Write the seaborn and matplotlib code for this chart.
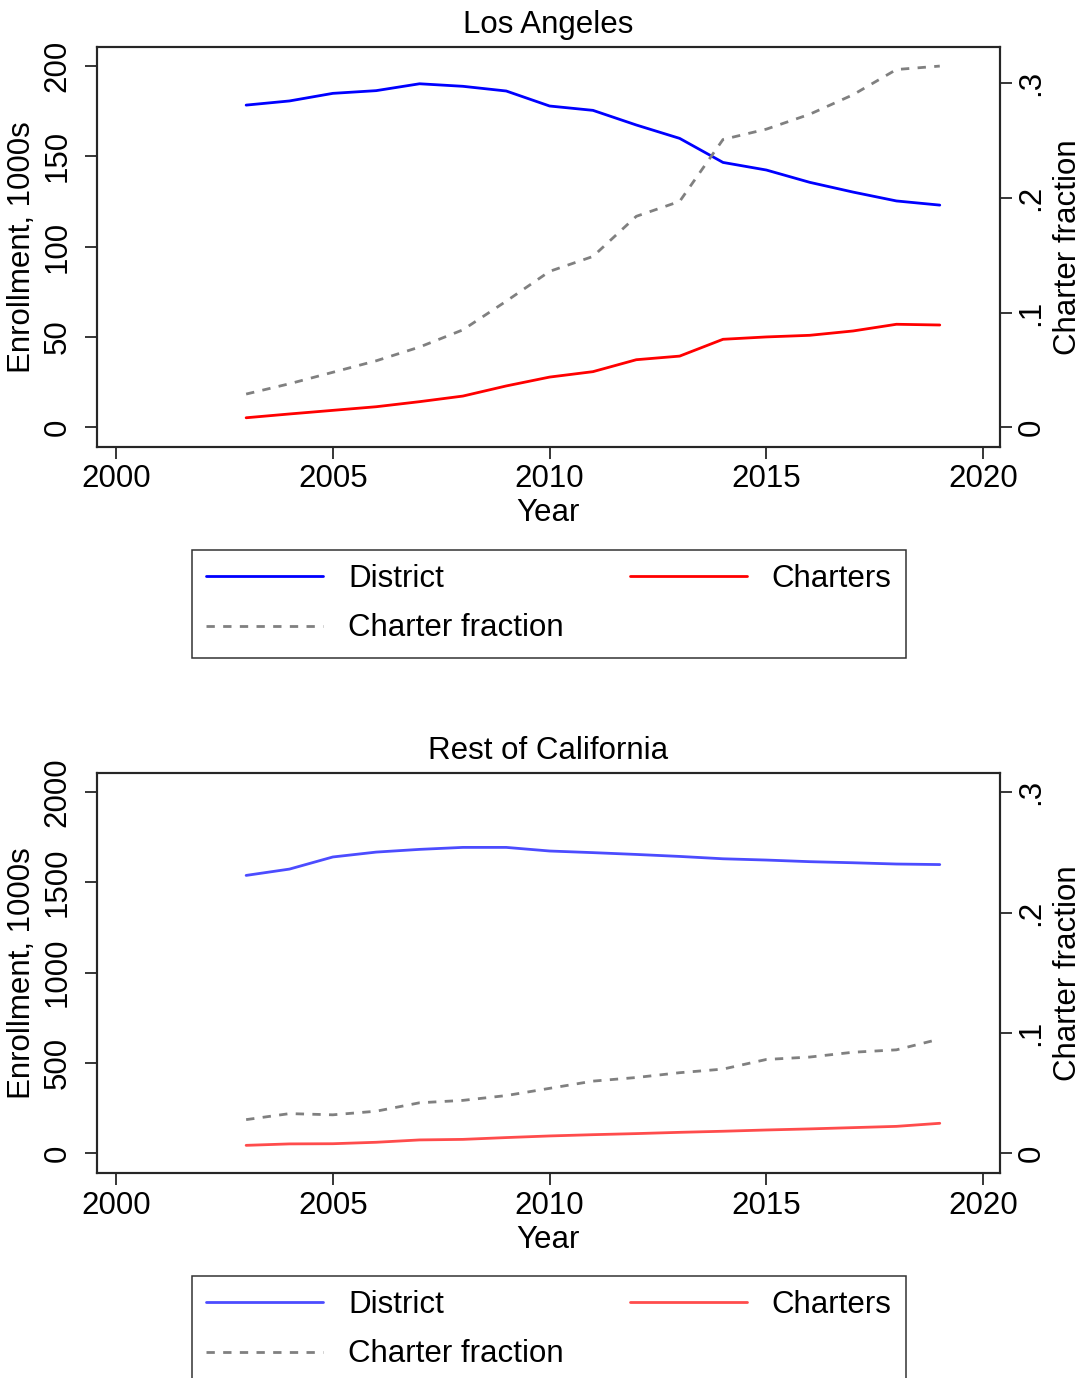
import numpy as np
import pandas as pd
import seaborn as sns
import matplotlib.pyplot as plt
from matplotlib.ticker import FuncFormatter

# Data
years = list(range(2003, 2020))

la_district = [178.2, 180.5, 184.7, 186.2, 190.0, 188.6, 186.0, 177.7, 175.3,
               167.2, 159.8, 146.5, 142.3, 135.5, 130.1, 125.2, 122.9]
la_charters = [5.3, 7.4, 9.4, 11.4, 14.2, 17.3, 22.9, 27.8, 30.8,
               37.4, 39.4, 48.7, 50.0, 50.9, 53.3, 57.0, 56.6]
la_fraction = [0.029, 0.038, 0.048, 0.058, 0.070, 0.085, 0.110, 0.136, 0.149,
               0.184, 0.197, 0.251, 0.260, 0.273, 0.290, 0.312, 0.315]

ca_district = [1537, 1572, 1639, 1666, 1681, 1692, 1692, 1672, 1663,
               1653, 1642, 1629, 1622, 1613, 1607, 1600, 1597]
ca_charters = [44, 52, 53, 61, 74, 77, 87, 96, 103,
               109, 116, 122, 129, 135, 142, 149, 166]
ca_fraction = [0.028, 0.033, 0.032, 0.035, 0.042, 0.044, 0.048, 0.054, 0.060,
               0.063, 0.067, 0.070, 0.078, 0.080, 0.084, 0.086, 0.095]

panel_titles = ["Los Angeles", "Rest of California"]
series_labels = ["District", "Charters", "Charter fraction"]

sns.set_style("white")
plt.rcParams['font.family'] = ['Liberation Sans', 'DejaVu Sans']
plt.rcParams['text.color'] = 'black'
plt.rcParams['axes.labelcolor'] = 'black'
plt.rcParams['xtick.color'] = 'black'
plt.rcParams['ytick.color'] = 'black'
plt.rcParams['axes.linewidth'] = 1.5

W, H = 1086, 1378
FS = 22.5
LW = 2.0


def px_box(left, top, right, bottom):
    # convert pixel box (from top-left) to figure fraction rect
    return [left / W, 1 - bottom / H, (right - left) / W, (bottom - top) / H]


def draw_panel(fig, rect, title, district, charters, fraction, colors, ylim, yticks, rlim, legend_top):
    ax = fig.add_axes(rect)
    df = pd.DataFrame({"Year": years, "District": district, "Charters": charters})
    sns.lineplot(data=df, x="Year", y="District", color=colors[0], lw=LW, ax=ax, legend=False)
    sns.lineplot(data=df, x="Year", y="Charters", color=colors[1], lw=LW, ax=ax, legend=False)

    ax2 = ax.twinx()
    fdf = pd.DataFrame({"Year": years, "Fraction": fraction})
    sns.lineplot(data=fdf, x="Year", y="Fraction", color="#808080", lw=LW, ax=ax2, legend=False)
    ax2.lines[0].set_dashes((3, 3))

    ax.set_xlim(1999.56, 2020.38)
    ax.set_xticks([2000, 2005, 2010, 2015, 2020])
    ax.set_ylim(*ylim)
    ax.set_yticks(yticks)
    ax2.set_ylim(*rlim)
    ax2.set_yticks([0, 0.1, 0.2, 0.3])
    ax2.yaxis.set_major_formatter(FuncFormatter(lambda v, p: "0" if v == 0 else ("%.1f" % v).lstrip("0")))

    ax.set_title(title, fontsize=FS, pad=10)
    ax.set_xlabel("Year", fontsize=FS, labelpad=3)
    ax.set_ylabel("Enrollment, 1000s", fontsize=FS, labelpad=4)
    ax2.set_ylabel("Charter fraction", fontsize=FS, labelpad=5)

    ax.tick_params(axis='x', direction='out', length=8.6, width=1.1, labelsize=FS, pad=4, bottom=True)
    ax.tick_params(axis='y', direction='out', length=8.6, width=1.1, labelsize=FS, pad=9, left=True)
    ax2.tick_params(axis='y', direction='out', length=8.6, width=1.1, labelsize=FS, pad=3.5, right=True)
    for lab in ax.get_yticklabels() + ax2.get_yticklabels():
        lab.set_rotation(90)
        lab.set_va('center')
    for sp in ax.spines.values():
        sp.set_color('black')
        sp.set_linewidth(1.5)

    # column-major fill: put fraction second so rows read District | Charters, then fraction
    lines = ax.get_lines()[:2] + ax2.get_lines()[:1]
    handles = [lines[0], lines[2], lines[1]]
    labels = [series_labels[0], series_labels[2], series_labels[1]]
    leg = fig.legend(handles, labels, ncol=2, loc='upper left',
                     bbox_to_anchor=(192 / W, 1 - legend_top / H),
                     fontsize=FS, frameon=True, fancybox=False, edgecolor='black',
                     handlelength=3.75, handletextpad=0.8, columnspacing=2.1,
                     borderpad=0.45, labelspacing=0.62, borderaxespad=0)
    leg.get_frame().set_linewidth(1.1)
    return ax, ax2


fig = plt.figure(figsize=(W / 100, H / 100), dpi=100)

draw_panel(fig, px_box(97, 46.7, 999.6, 446.7), panel_titles[0],
           la_district, la_charters, la_fraction, ["#0000ff", "#ff0000"],
           (-10.7, 210.5), [0, 50, 100, 150, 200], (-0.0169, 0.3319), 550)

draw_panel(fig, px_box(97, 773.3, 999.6, 1173.3), panel_titles[1],
           ca_district, ca_charters, ca_fraction, ["#4c4cff", "#ff4c4c"],
           (-110.6, 2101.8), [0, 500, 1000, 1500, 2000], (-0.0166, 0.3158), 1276)

fig.savefig("out.png", dpi=100)
